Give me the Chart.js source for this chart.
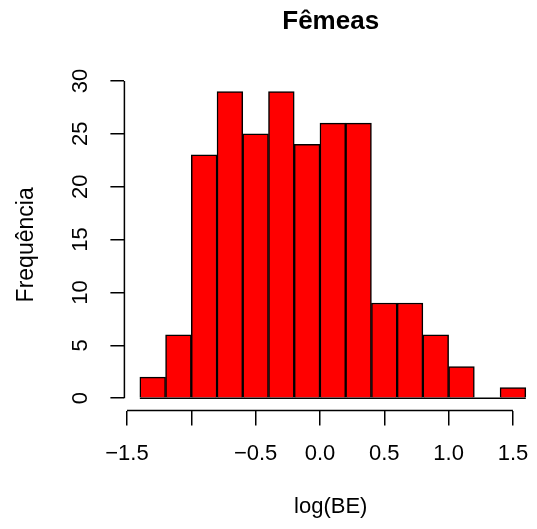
<!DOCTYPE html>
<html>
<head>
<meta charset="utf-8">
<script src="https://cdn.jsdelivr.net/npm/chart.js@4/dist/chart.umd.min.js"></script>
<style>body{margin:0;background:#fff}</style>
</head>
<body>
<canvas id="hist" width="537" height="529"></canvas>
<script>
// centres des classes (largeur 0.2) et effectifs
const centres = [-1.3, -1.1, -0.9, -0.7, -0.5, -0.3, -0.1, 0.1, 0.3, 0.5, 0.7, 0.9, 1.1, 1.3, 1.5];
const frequencias = [2, 6, 23, 29, 25, 29, 24, 26, 26, 9, 9, 6, 3, 0, 1];
const limites = [-1.4, 1.6];
const xTicks = [-1.5, -1.0, -0.5, 0.0, 0.5, 1.0, 1.5];
const yTicks = [0, 5, 10, 15, 20, 25, 30];

Chart.defaults.font.family = '"Liberation Sans", Arial, sans-serif';
Chart.defaults.color = '#000';

// axes façon R : lignes limitées aux graduations extrêmes
const eixosR = {
  id: 'eixosR',
  afterDraw(chart) {
    const {ctx, chartArea, scales: {x, y}} = chart;
    ctx.save();
    ctx.strokeStyle = '#000';
    ctx.lineWidth = 1.5;
    ctx.beginPath();
    ctx.moveTo(chartArea.left, y.getPixelForValue(yTicks[0]));
    ctx.lineTo(chartArea.left, y.getPixelForValue(yTicks[yTicks.length - 1]));
    ctx.moveTo(x.getPixelForValue(xTicks[0]), chartArea.bottom);
    ctx.lineTo(x.getPixelForValue(xTicks[xTicks.length - 1]), chartArea.bottom);
    ctx.stroke();
    ctx.restore();
  }
};

function zeroPad(s) {
  s.paddingLeft = 0; s.paddingRight = 0; s.paddingTop = 0; s.paddingBottom = 0;
}

new Chart(document.getElementById('hist'), {
  type: 'bar',
  data: {
    datasets: [{
      type: 'line',
      data: limites.map(v => ({x: v, y: 0})),
      borderColor: '#000',
      borderWidth: 1.5,
      pointRadius: 0,
      order: 1
    }, {
      data: centres.map((c, i) => ({x: c, y: frequencias[i]})),
      backgroundColor: '#ff0000',
      borderColor: '#000',
      borderWidth: 1.5,
      barPercentage: 1,
      categoryPercentage: 1,
      order: 2
    }]
  },
  options: {
    responsive: false,
    animation: false,
    layout: {padding: 0},
    plugins: {
      legend: {display: false},
      tooltip: {enabled: false},
      title: {
        display: true,
        text: 'Fêmeas',
        fullSize: false,
        font: {size: 26, weight: 'bold', lineHeight: 1.2},
        padding: {top: 6, bottom: 42}
      }
    },
    scales: {
      x: {
        type: 'linear',
        offset: false,
        min: -1.52,
        max: 1.687,
        afterBuildTicks: s => { s.ticks = xTicks.map(v => ({value: v})); },
        afterFit: s => { s.height = 118.5; zeroPad(s); },
        border: {display: false},
        grid: {offset: false, drawOnChartArea: false, drawTicks: true, tickLength: 15, color: '#000', lineWidth: 1.5},
        ticks: {
          padding: 15,
          font: {size: 22},
          maxRotation: 0,
          autoSkip: false,
          callback: v => v === -1 ? '' : (v < 0 ? '\u2212' : '') + Math.abs(v).toFixed(1)
        },
        title: {display: true, text: 'log(BE)', font: {size: 22, lineHeight: 1.2}, padding: {bottom: 9}}
      },
      y: {
        min: -1.16,
        max: 30.16,
        afterBuildTicks: s => { s.ticks = yTicks.map(v => ({value: v})); },
        afterFit: s => { s.width = 124.4; zeroPad(s); },
        border: {display: false},
        grid: {drawOnChartArea: false, drawTicks: true, tickLength: 14, color: '#000', lineWidth: 1.5},
        ticks: {
          padding: 17,
          font: {size: 22},
          minRotation: 90,
          maxRotation: 90,
          crossAlign: 'center',
          autoSkip: false
        },
        title: {display: true, text: 'Frequência', font: {size: 23, lineHeight: 1.2}, padding: {top: 13}}
      }
    }
  },
  plugins: [eixosR]
});
</script>
</body>
</html>
